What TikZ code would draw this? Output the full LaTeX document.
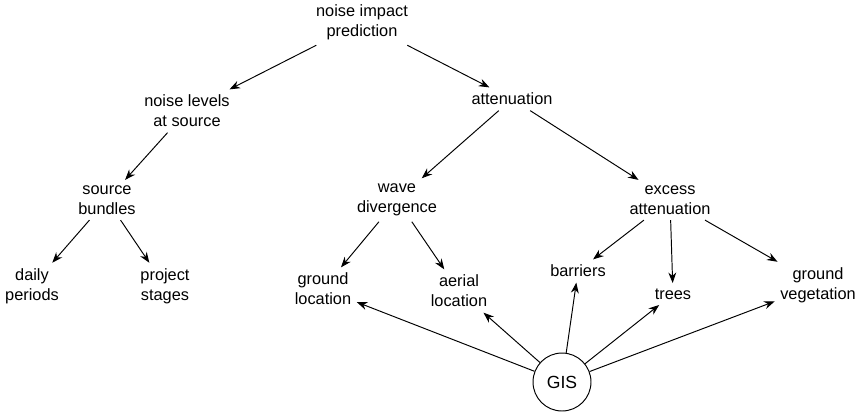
\documentclass[tikz,border=0pt]{standalone}
\usepackage{fontspec}
\setmainfont{Liberation Sans}
\usetikzlibrary{arrows.meta}
\begin{document}
\begin{tikzpicture}[x=0.02cm,y=-0.02cm,
  lbl/.style={align=center,font=\fontsize{9.3}{11.4}\selectfont,inner sep=3pt},
  arr/.style={draw,line width=0.55pt,-{Stealth[length=6pt,width=4.5pt]}}]
\useasboundingbox (0,0) rectangle (856,414);
\node[lbl] (nip) at (362,22) {noise impact\\prediction};
\node[lbl] (nls) at (187,111) {noise levels\\at source};
\node[lbl] (att) at (512,99) {attenuation};
\node[lbl] (sb) at (107,200) {source\\bundles};
\node[lbl] (wd) at (397,200) {wave\\divergence};
\node[lbl] (ea) at (670,200) {excess\\attenuation};
\node[lbl] (dp) at (32,286) {daily\\periods};
\node[lbl] (ps) at (165,286) {project\\stages};
\node[lbl] (gl) at (323,289) {ground\\location};
\node[lbl] (al) at (459,291) {aerial\\location};
\node[lbl] (bar) at (578,271) {barriers};
\node[lbl] (tr) at (673,294) {trees};
\node[lbl] (gv) at (818,285) {ground\\vegetation};
\node[draw,circle,line width=0.55pt,minimum size=1.16cm,inner sep=0pt,font=\fontsize{10}{12}\selectfont] (gis) at (562,382) {GIS};
\draw[arr] (nip) -- (nls);
\draw[arr] (nip) -- (att);
\draw[arr] (nls) -- (sb);
\draw[arr] (att) -- (wd);
\draw[arr] (att) -- (ea);
\draw[arr] (sb) -- (dp);
\draw[arr] (sb) -- (ps);
\draw[arr] (wd) -- (gl);
\draw[arr] (wd) -- (al);
\draw[arr] (ea) -- (bar);
\draw[arr] (ea) -- (tr);
\draw[arr] (ea) -- (gv);
\draw[arr] (gis) -- (gl);
\draw[arr] (gis) -- (al);
\draw[arr] (gis) -- (bar);
\draw[arr] (gis) -- (tr);
\draw[arr] (gis) -- (gv);
\end{tikzpicture}
\end{document}
